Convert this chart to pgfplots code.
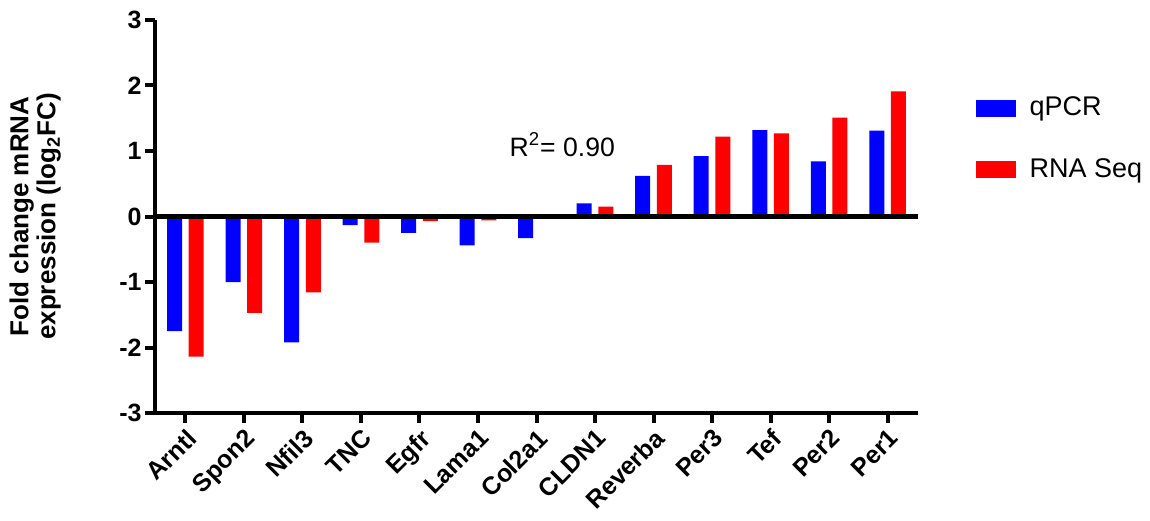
\documentclass[border=0pt]{standalone}
\usepackage{fontspec}
\setmainfont{Liberation Sans}
\usepackage{pgfplots}
\pgfplotsset{compat=1.18}

\begin{document}
\begin{tikzpicture}
\useasboundingbox (-77.5pt,-53.5pt) rectangle (497.5pt,206.5pt);
\begin{axis}[
  scale only axis,
  width=381.5pt, height=196.5pt,
  xmin=-0.52, xmax=12.52,
  ymin=-3, ymax=3,
  ytick={-3,-2,-1,0,1,2,3},
  xtick={0,...,12},
  xticklabels={Arntl,Spon2,Nfil3,TNC,Egfr,Lama1,Col2a1,CLDN1,Reverba,Per3,Tef,Per2,Per1},
  axis x line=bottom, axis y line=left,
  axis line style={-, line width=2pt},
  tick style={line width=2pt, black},
  tick align=outside,
  major tick length=5pt,
  /pgf/number format/assume math mode=true,
  yticklabel style={font=\fontsize{12.5}{14}\selectfont\bfseries, inner sep=1.5pt},
  xticklabel style={font=\fontsize{12.5}{14}\selectfont\bfseries, rotate=45, anchor=north east, inner sep=1.5pt},
  ylabel={Fold change mRNA\\expression (log\textsubscript{2}FC)},
  ylabel style={font=\fontsize{13}{13.5}\selectfont\bfseries, align=center,
    at={(axis description cs:-0.157,0.5)}, anchor=center},
  ybar, bar width=7.5pt,
  legend style={draw=none, fill=none, at={(rel axis cs:1.075,0.815)}, anchor=north west,
    font=\fontsize{13.5}{15}\selectfont, row sep=16pt, inner sep=0pt},
  legend cell align=left,
  legend image code/.code={\fill[#1, draw=none] (0pt,-4.25pt) rectangle (20pt,4.25pt);},
]
\addplot[fill=blue, draw=none, bar shift=-5.4pt] coordinates {
  (0,-1.75) (1,-1.00) (2,-1.92) (3,-0.13) (4,-0.25) (5,-0.44) (6,-0.33)
  (7,0.20) (8,0.62) (9,0.92) (10,1.32) (11,0.84) (12,1.31)};
\addlegendentry{\hspace{5pt}qPCR}
\addplot[fill=red, draw=none, bar shift=5.4pt] coordinates {
  (0,-2.14) (1,-1.47) (2,-1.16) (3,-0.40) (4,-0.07) (5,-0.06) (6,0.03)
  (7,0.15) (8,0.79) (9,1.22) (10,1.27) (11,1.51) (12,1.91)};
\addlegendentry{\hspace{5pt}RNA Seq}
\draw[line width=2.2pt, black] (rel axis cs:0,0.5) -- (rel axis cs:1,0.5);
\node[font=\fontsize{13.3}{15}\selectfont] at (axis cs:6.44,1.10) {R\textsuperscript{2}= 0.90};
\end{axis}
\end{tikzpicture}
\end{document}
